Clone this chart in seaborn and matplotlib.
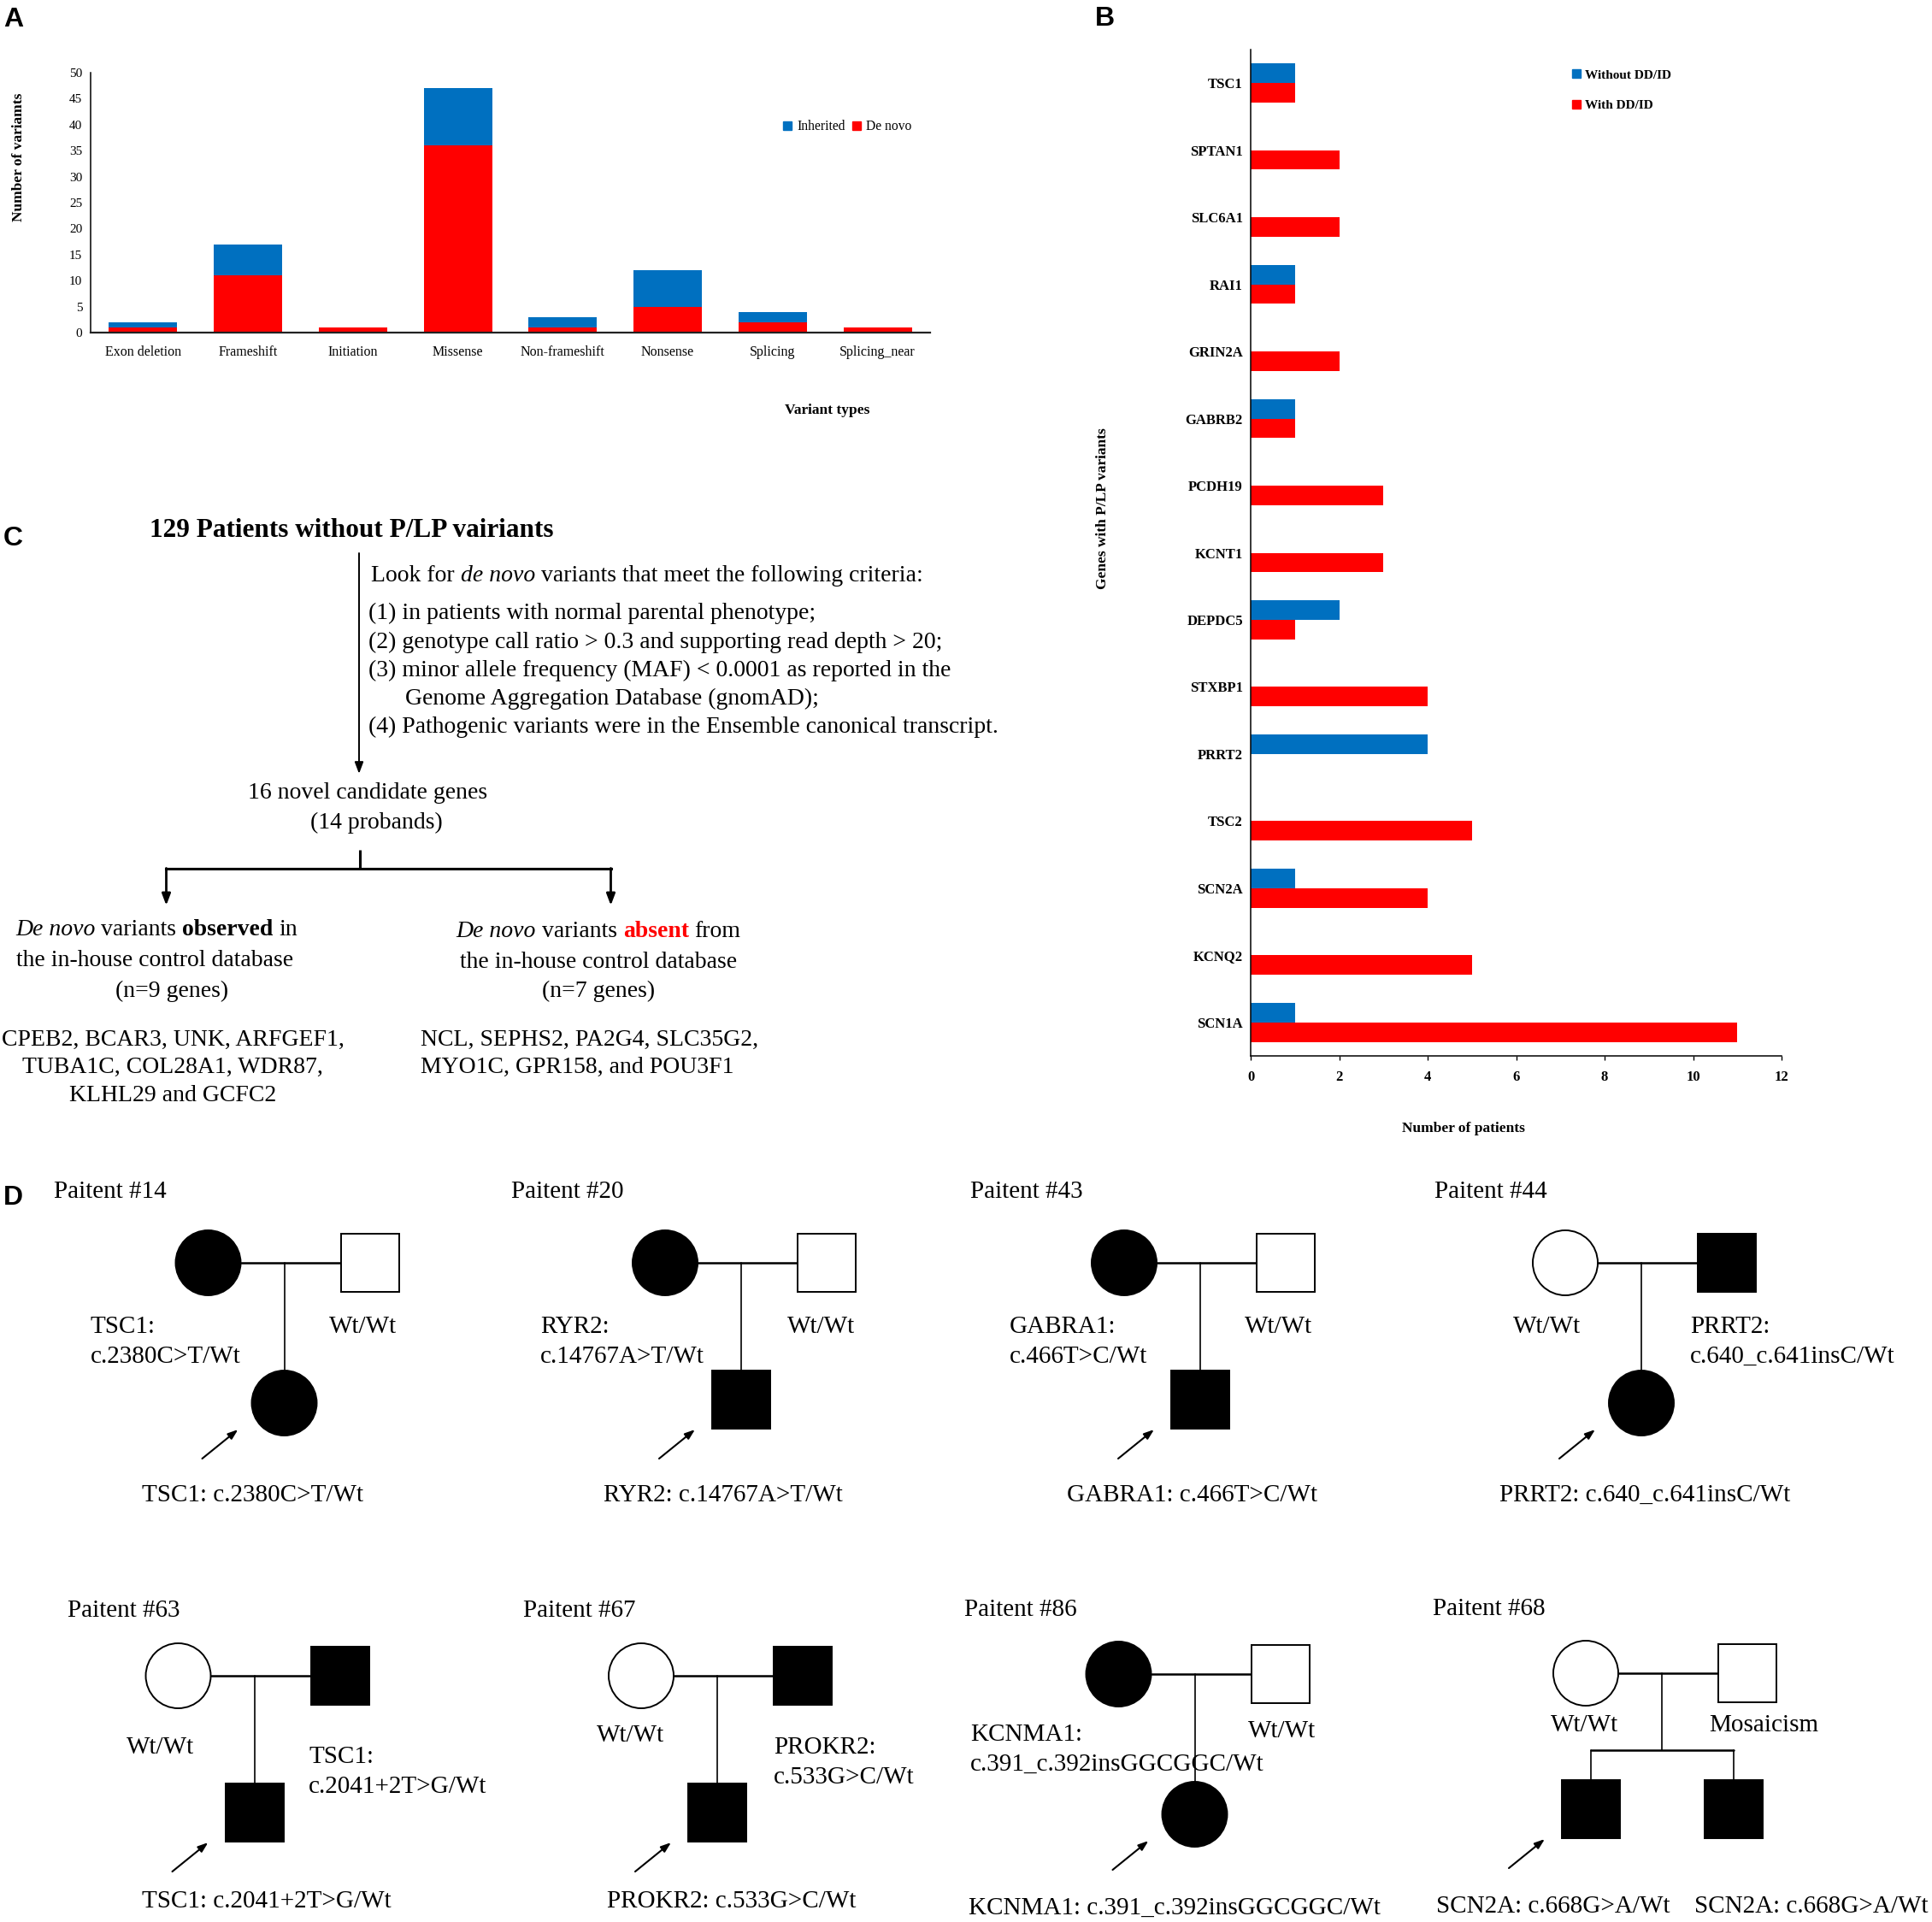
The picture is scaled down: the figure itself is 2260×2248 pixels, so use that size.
import numpy as np
import pandas as pd
import matplotlib
matplotlib.use("Agg")
import matplotlib.pyplot as plt
import seaborn as sns
from matplotlib.lines import Line2D
from matplotlib.patches import Ellipse, Rectangle

# ---------------- data ----------------
variant_types = ["Exon deletion", "Frameshift", "Initiation", "Missense",
                 "Non-frameshift", "Nonsense", "Splicing", "Splicing_near"]
inherited = [1, 6, 0, 11, 2, 7, 2, 0]
de_novo = [1, 11, 1, 36, 1, 5, 2, 1]
a_yticks = [0, 5, 10, 15, 20, 25, 30, 35, 40, 45, 50]

genes = ["TSC1", "SPTAN1", "SLC6A1", "RAI1", "GRIN2A", "GABRB2", "PCDH19", "KCNT1",
         "DEPDC5", "STXBP1", "PRRT2", "TSC2", "SCN2A", "KCNQ2", "SCN1A"]
without_ddid = [1, 0, 0, 1, 0, 1, 0, 0, 2, 0, 4, 0, 1, 0, 1]
with_ddid = [1, 2, 2, 1, 2, 1, 3, 3, 1, 4, 0, 5, 4, 5, 11]
b_xticks = [0, 2, 4, 6, 8, 10, 12]

c_title = "129 Patients without P/LP vairiants"
c_intro = [("Look for", "normal"), ("de novo", "italic"),
           ("variants that meet the following criteria:", "normal")]
c_criteria = ["(1) in patients with normal parental phenotype;",
              "(2) genotype call ratio > 0.3 and supporting read depth > 20;",
              "(3) minor allele frequency (MAF) < 0.0001 as reported in the",
              "Genome Aggregation Database (gnomAD);",
              "(4) Pathogenic variants were in the Ensemble canonical transcript."]
c_mid = ["16 novel candidate genes", "(14 probands)"]
c_left_head = [("De novo", "italic"), ("variants", "normal"), ("observed", "bold"), ("in", "normal")]
c_right_head = [("De novo", "italic"), ("variants", "normal"), ("absent", "boldred"), ("from", "normal")]
c_sub = "the in-house control database"
c_left_n = "(n=9 genes)"
c_right_n = "(n=7 genes)"
c_left_genes = ["CPEB2, BCAR3, UNK, ARFGEF1,", "TUBA1C, COL28A1, WDR87,", "KLHL29 and GCFC2"]
c_right_genes = ["NCL, SEPHS2, PA2G4, SLC35G2,", "MYO1C, GPR158, and POU3F1"]

ped_titles = ["Paitent #14", "Paitent #20", "Paitent #43", "Paitent #44",
              "Paitent #63", "Paitent #67", "Paitent #86", "Paitent #68"]
mother_affected = [True, True, True, False, False, False, True, False]
father_affected = [False, False, False, True, True, True, False, False]
child_sexes = [["F"], ["M"], ["M"], ["F"], ["M"], ["M"], ["F"], ["M", "M"]]
mother_labels = ["TSC1:\nc.2380C>T/Wt", "RYR2:\nc.14767A>T/Wt", "GABRA1:\nc.466T>C/Wt", "Wt/Wt",
                 "Wt/Wt", "Wt/Wt", "KCNMA1:\nc.391_c.392insGGCGGC/Wt", "Wt/Wt"]
father_labels = ["Wt/Wt", "Wt/Wt", "Wt/Wt", "PRRT2:\nc.640_c.641insC/Wt",
                 "TSC1:\nc.2041+2T>G/Wt", "PROKR2:\nc.533G>C/Wt", "Wt/Wt", "Mosaicism"]
proband_labels = [["TSC1: c.2380C>T/Wt"], ["RYR2: c.14767A>T/Wt"], ["GABRA1: c.466T>C/Wt"],
                  ["PRRT2: c.640_c.641insC/Wt"], ["TSC1: c.2041+2T>G/Wt"], ["PROKR2: c.533G>C/Wt"],
                  ["KCNMA1: c.391_c.392insGGCGGC/Wt"], ["SCN2A: c.668G>A/Wt", "SCN2A: c.668G>A/Wt"]]

# ---------------- layout (pixels) ----------------
W, H, DPI = 2260, 2248, 100
BLUE, RED = "#0070C0", "#FF0000"
ped_mx = [243.5, 778, 1315, 1831, 208.5, 750, 1308.5, 1855]
ped_my = [1477, 1477, 1477, 1477, 1960, 1960, 1958, 1957]
title_xy = [(63, 1401), (598, 1401), (1135, 1401), (1678, 1401),
            (79, 1891), (612, 1891), (1128, 1890), (1676, 1889)]
mlab_xy = [(106, 1559), (632, 1559), (1181, 1559), (1770, 1559),
           (148, 2051), (698, 2037), (1135, 2036), (1814, 2025)]
flab_xy = [(385, 1559), (921, 1559), (1456, 1559), (1977, 1559),
           (361, 2062), (905, 2051), (1460, 2032), (1999, 2025)]
plab_xy = [[(295, 1756)], [(846, 1756)], [(1394, 1756)], [(1924, 1756)],
           [(312, 2231)], [(856, 2231)], [(1374, 2239)], [(1817, 2237), (2119, 2237)]]

sns.set_theme(style="white")
plt.rcParams["font.family"] = ["Liberation Serif", "DejaVu Serif"]
plt.rcParams["text.color"] = "black"
plt.rcParams["axes.labelcolor"] = "black"
plt.rcParams["xtick.color"] = "black"
plt.rcParams["ytick.color"] = "black"
plt.rcParams["axes.edgecolor"] = "black"

fig = plt.figure(figsize=(W / DPI, H / DPI), dpi=DPI)
fig.patch.set_facecolor("white")


def px_axes(left, top, right, bottom):
    return fig.add_axes([left / W, 1 - bottom / H, (right - left) / W, (bottom - top) / H])


# ---------------- Panel A ----------------
axA = px_axes(106, 85, 1088, 389)
dfA = pd.DataFrame({"Variant type": variant_types, "Inherited": inherited, "De novo": de_novo})
dfA["Total"] = dfA["Inherited"] + dfA["De novo"]
sns.barplot(data=dfA, x="Variant type", y="Total", color=BLUE, saturation=1, width=0.65,
            errorbar=None, linewidth=0, ax=axA)
sns.barplot(data=dfA, x="Variant type", y="De novo", color=RED, saturation=1, width=0.65,
            errorbar=None, linewidth=0, ax=axA)
axA.set_xlim(-0.5, len(variant_types) - 0.5)
axA.set_ylim(0, 50)
axA.set_yticks(a_yticks)
axA.tick_params(axis="both", length=0)
axA.tick_params(axis="x", pad=11, labelsize=11.5)
axA.tick_params(axis="y", pad=7, labelsize=11)
for s in ["top", "right"]:
    axA.spines[s].set_visible(False)
axA.spines["left"].set_linewidth(1.1)
axA.spines["bottom"].set_linewidth(1.6)
axA.spines["bottom"].set_color("#222222")
axA.set_ylabel("Number of variamts", fontsize=12.5, fontweight="bold")
axA.set_xlabel("Variant types", fontsize=12.5, fontweight="bold")
axA.yaxis.set_label_coords(-0.0857, 0.674)
axA.xaxis.set_label_coords(0.877, -0.299)
axA.xaxis.label.set_va("center")
axA.yaxis.label.set_va("center")
hA = [Line2D([], [], marker="s", linestyle="", markerfacecolor=BLUE, markeredgecolor=BLUE, markersize=7),
      Line2D([], [], marker="s", linestyle="", markerfacecolor=RED, markeredgecolor=RED, markersize=7)]
fig.legend(hA, ["Inherited", "De novo"], loc="upper left", bbox_to_anchor=(916 / W, 1 - 140 / H),
           ncol=2, frameon=False, fontsize=11.2, handlelength=0.7, handletextpad=0.35,
           columnspacing=0.5, borderpad=0, borderaxespad=0)

# ---------------- Panel B ----------------
axB = px_axes(1463, 58, 2084, 1235)
groups = ["Without DD/ID", "With DD/ID"]
dfB = pd.DataFrame({"Gene": genes * 2,
                    "Group": [groups[0]] * len(genes) + [groups[1]] * len(genes),
                    "Patients": without_ddid + with_ddid})
sns.barplot(data=dfB, y="Gene", x="Patients", hue="Group", hue_order=groups, orient="h",
            palette=[BLUE, RED], saturation=1, width=0.58, errorbar=None, linewidth=0,
            legend=False, ax=axB)
axB.set_xlim(0, 12)
axB.set_xticks(b_xticks)
for s in ["top", "right"]:
    axB.spines[s].set_visible(False)
axB.spines["left"].set_linewidth(1.1)
axB.spines["bottom"].set_linewidth(1.1)
axB.tick_params(axis="y", length=0, pad=6.5, labelsize=12)
axB.tick_params(axis="x", length=3.6, width=1, direction="out", pad=8.5, labelsize=12, bottom=True)
for lab in axB.get_xticklabels() + axB.get_yticklabels():
    lab.set_fontweight("bold")
axB.set_xlabel("Number of patients", fontsize=12.5, fontweight="bold")
axB.set_ylabel("Genes with P/LP variants", fontsize=12.5, fontweight="bold")
axB.xaxis.set_label_coords(0.401, -0.0722)
axB.yaxis.set_label_coords(-0.279, 0.544)
axB.xaxis.label.set_va("center")
axB.yaxis.label.set_va("center")
hB = [Line2D([], [], marker="s", linestyle="", markerfacecolor=BLUE, markeredgecolor=BLUE, markersize=7),
      Line2D([], [], marker="s", linestyle="", markerfacecolor=RED, markeredgecolor=RED, markersize=7)]
fig.legend(hB, groups, loc="upper left", bbox_to_anchor=(1837.5 / W, 1 - 81 / H),
           frameon=False, prop={"size": 11, "weight": "bold"}, handlelength=0.8,
           handletextpad=0.3, labelspacing=1.42, borderpad=0, borderaxespad=0)

# ---------------- overlay for C and D ----------------
ov = fig.add_axes([0, 0, 1, 1])
ov.set_xlim(0, W)
ov.set_ylim(H, 0)
ov.axis("off")

SANS = ["Liberation Sans", "DejaVu Sans"]
for letter, x, y in [("A", 4, 31), ("B", 1281, 30), ("C", 4, 638), ("D", 4, 1409)]:
    ov.text(x, y, letter, family=SANS, fontweight="bold", fontsize=23, va="baseline", ha="left")

FS = 20
FSD = 21
STYLES = {"normal": {}, "italic": {"fontstyle": "italic"}, "bold": {"fontweight": "bold"},
          "boldred": {"fontweight": "bold", "color": "#FF0000"}}
renderer = fig.canvas.get_renderer()


def rich_line(x, y, segs, ha="left", size=FS):
    texts = [ov.text(0, y, s, fontsize=size, va="center", ha="left", **STYLES[st]) for s, st in segs]
    widths = [t.get_window_extent(renderer).width for t in texts]
    space = size * DPI / 72 * 0.25
    total = sum(widths) + space * (len(texts) - 1)
    cur = x - total / 2 if ha == "center" else x
    for t, w in zip(texts, widths):
        t.set_x(cur)
        cur += w + space


def arrow(x0, y0, x1, y1, lw=1.5, hl=0.8, hw=0.3):
    ov.annotate("", xy=(x1, y1), xytext=(x0, y0),
                arrowprops=dict(arrowstyle=f"-|>,head_length={hl},head_width={hw}", color="black",
                                lw=lw, shrinkA=0, shrinkB=0, mutation_scale=10))


# Panel C
ov.text(411, 620.5, c_title, fontsize=22.5, fontweight="bold", ha="center", va="center")
arrow(420, 647, 420, 905, lw=1.4)
rich_line(434.5, 673.5, c_intro)
crit_xy = [(431, 717), (431, 751), (431, 784), (473.5, 817), (431, 850.5)]
for (x, y), s in zip(crit_xy, c_criteria):
    ov.text(x, y, s, fontsize=FS, ha="left", va="center")
ov.text(430, 928, c_mid[0], fontsize=FS, ha="center", va="center")
ov.text(440, 962.5, c_mid[1], fontsize=FS, ha="center", va="center")
ov.plot([421, 421], [994, 1015.5], color="black", lw=2.2, solid_capstyle="butt")
ov.plot([194, 715], [1015.5, 1015.5], color="black", lw=2.2, solid_capstyle="projecting")
arrow(194.5, 1015.5, 194.5, 1059, lw=2.0)
arrow(714.5, 1015.5, 714.5, 1059, lw=2.0)
rich_line(183, 1088, c_left_head, ha="center")
ov.text(181, 1124, c_sub, fontsize=FS, ha="center", va="center")
ov.text(201, 1159, c_left_n, fontsize=FS, ha="center", va="center")
rich_line(700, 1089, c_right_head, ha="center")
ov.text(700, 1125, c_sub, fontsize=FS, ha="center", va="center")
ov.text(700, 1159, c_right_n, fontsize=FS, ha="center", va="center")
for y, s in zip([1216, 1248, 1281], c_left_genes):
    ov.text(202, y, s, fontsize=FS, ha="center", va="center")
for y, s in zip([1216, 1248], c_right_genes):
    ov.text(492, y, s, fontsize=FS, ha="left", va="center")

# Panel D pedigrees
R, SQ = 38, 68
FATHER_DX, CHILD_DX, CHILD_DY = 155, 89, 126
LINE_GAP = 35


def person(cx, top, sex, affected):
    fc = "black" if affected else "white"
    if sex == "F":
        ov.add_patch(Ellipse((cx, top + R), 2 * R, 2 * R, facecolor=fc, edgecolor="black", lw=1.4, zorder=3))
    else:
        ov.add_patch(Rectangle((cx - SQ / 2, top + (2 * R - SQ) / 2), SQ, SQ, facecolor=fc,
                               edgecolor="black", lw=1.4, zorder=3))


def multiline(x, y, s, ha="left"):
    for k, line in enumerate(s.split("\n")):
        ov.text(x, y + k * LINE_GAP, line, fontsize=FSD, ha=ha, va="baseline")


for i in range(len(ped_titles)):
    mx, my = ped_mx[i], ped_my[i]
    fx = mx + FATHER_DX + SQ / 2
    person(mx, my - R, "F", mother_affected[i])
    person(fx, my - R, "M", father_affected[i])
    ov.plot([mx + R, mx + FATHER_DX], [my, my], color="black", lw=1.8, zorder=2)
    kids = child_sexes[i]
    lx = mx + CHILD_DX
    if len(kids) == 1:
        ov.plot([lx, lx], [my, my + CHILD_DY], color="black", lw=1.2, zorder=2)
        kid_x = [lx]
        kid_top = my + CHILD_DY
    else:
        sib_y = my + 90
        kid_x = [mx + 6, mx + 173]
        kid_top = my + 125
        ov.plot([lx, lx], [my, sib_y], color="black", lw=1.2, zorder=2)
        ov.plot([kid_x[0], kid_x[1]], [sib_y, sib_y], color="black", lw=1.8, zorder=2)
        for kx in kid_x:
            ov.plot([kx, kx], [sib_y, kid_top], color="black", lw=1.2, zorder=2)
    for kx, sx in zip(kid_x, kids):
        person(kx, kid_top if sx == "F" else kid_top - (2 * R - SQ) / 2, sx, True)
    arrow(kid_x[0] - 96, kid_top + 103, kid_x[0] - 54, kid_top + 69, lw=1.5, hl=0.7, hw=0.25)
    tx, ty = title_xy[i]
    ov.text(tx, ty, ped_titles[i], fontsize=FSD, ha="left", va="baseline")
    multiline(*mlab_xy[i], mother_labels[i])
    multiline(*flab_xy[i], father_labels[i])
    for (px, py), s in zip(plab_xy[i], proband_labels[i]):
        ov.text(px, py, s, fontsize=FSD, ha="center", va="baseline")

fig.savefig("out.png", dpi=DPI, facecolor="white")
